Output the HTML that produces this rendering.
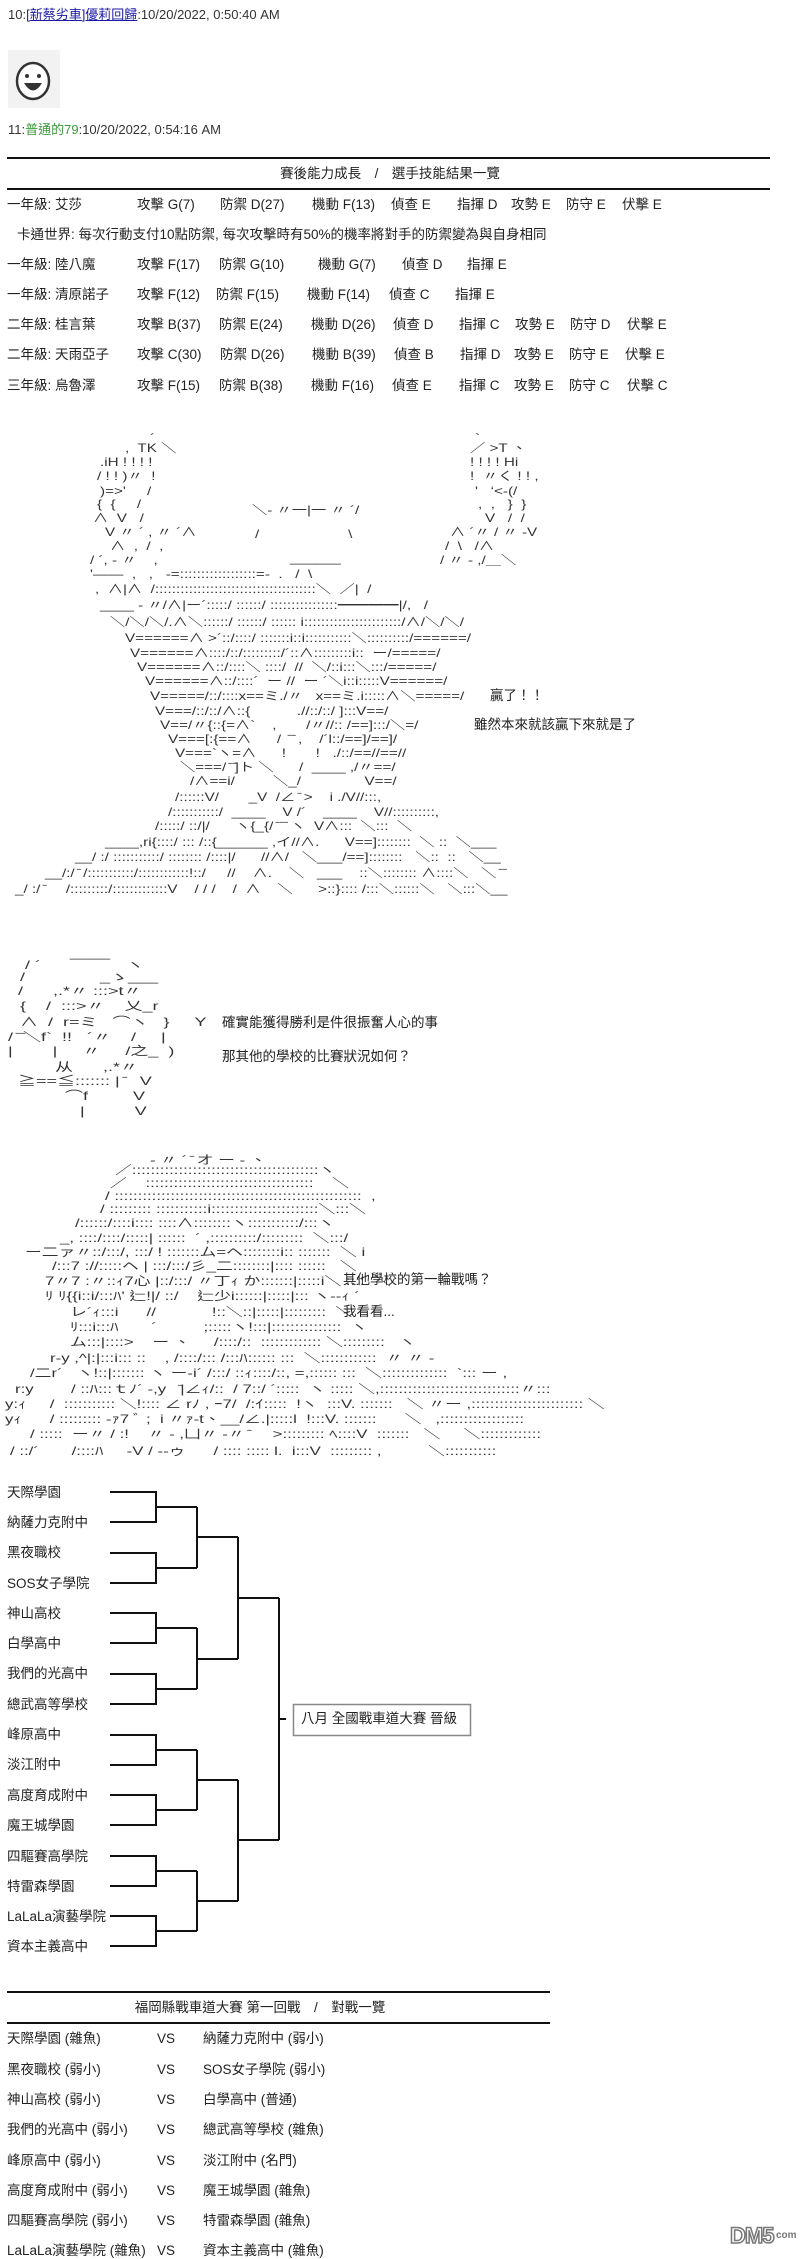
<!DOCTYPE html>
<html><head><meta charset="utf-8">
<style>
html,body{margin:0;padding:0;background:#fff;}
body{width:800px;height:2256px;position:relative;overflow:hidden;font-family:"Liberation Sans","Noto Sans CJK TC",sans-serif;color:#222;}
.t{position:absolute;font-size:13.5px;line-height:16px;white-space:nowrap;}
.a{position:absolute;font-size:12px;line-height:14px;white-space:pre;color:#333;transform-origin:0 0;}
.a1{transform:scaleX(1.27);}
.a2{transform:scaleX(1.5);}
.a3{transform:scaleX(1.4);}
.hr{position:absolute;height:2px;background:#111;}
</style></head><body>

<div class="t" style="left:8px;top:7px;font-size:13px;color:#333">10:<span style="color:#1a1aa8;text-decoration:underline">[新蔡劣車]優莉回歸</span>:10/20/2022, 0:50:40 AM</div>
<svg style="position:absolute;left:8px;top:50px" width="52" height="60">
<rect x="0" y="0" width="52" height="58" fill="#f2f2f2"/>
<ellipse cx="25" cy="31" rx="16" ry="18" fill="#fff" stroke="#333" stroke-width="2.5"/>
<circle cx="19" cy="26" r="2" fill="#333"/><circle cx="31" cy="26" r="2" fill="#333"/>
<path d="M16 33 Q25 48 34 33 Z" fill="#333"/>
</svg>
<div class="t" style="left:8px;top:122px;font-size:13px;color:#333">11:<span style="color:#3a9a3a">普通的79</span>:10/20/2022, 0:54:16 AM</div>

<div class="hr" style="left:7px;top:157px;width:763px"></div>
<div class="t" style="left:0;width:780px;text-align:center;top:166px">賽後能力成長　/　選手技能結果一覽</div>
<div class="hr" style="left:7px;top:188px;width:763px"></div>

<div class="t" style="left:7px;top:197px">一年級: 艾莎</div><div class="t" style="left:137px;top:197px">攻擊 G(7)</div><div class="t" style="left:220px;top:197px">防禦 D(27)</div><div class="t" style="left:312px;top:197px">機動 F(13)</div><div class="t" style="left:391px;top:197px">偵查 E</div><div class="t" style="left:457px;top:197px">指揮 D</div><div class="t" style="left:511px;top:197px">攻勢 E</div><div class="t" style="left:566px;top:197px">防守 E</div><div class="t" style="left:622px;top:197px">伏擊 E</div>
<div class="t" style="left:17px;top:227px">卡通世界: 每次行動支付10點防禦, 每次攻擊時有50%的機率將對手的防禦變為與自身相同</div>
<div class="t" style="left:7px;top:257px">一年級: 陸八魔</div><div class="t" style="left:137px;top:257px">攻擊 F(17)</div><div class="t" style="left:219px;top:257px">防禦 G(10)</div><div class="t" style="left:318px;top:257px">機動 G(7)</div><div class="t" style="left:402px;top:257px">偵查 D</div><div class="t" style="left:467px;top:257px">指揮 E</div>
<div class="t" style="left:7px;top:287px">一年級: 清原諾子</div><div class="t" style="left:137px;top:287px">攻擊 F(12)</div><div class="t" style="left:216px;top:287px">防禦 F(15)</div><div class="t" style="left:307px;top:287px">機動 F(14)</div><div class="t" style="left:389px;top:287px">偵查 C</div><div class="t" style="left:455px;top:287px">指揮 E</div>
<div class="t" style="left:7px;top:317px">二年級: 桂言葉</div><div class="t" style="left:137px;top:317px">攻擊 B(37)</div><div class="t" style="left:219px;top:317px">防禦 E(24)</div><div class="t" style="left:311px;top:317px">機動 D(26)</div><div class="t" style="left:393px;top:317px">偵查 D</div><div class="t" style="left:459px;top:317px">指揮 C</div><div class="t" style="left:515px;top:317px">攻勢 E</div><div class="t" style="left:570px;top:317px">防守 D</div><div class="t" style="left:627px;top:317px">伏擊 E</div>
<div class="t" style="left:7px;top:347px">二年級: 天雨亞子</div><div class="t" style="left:137px;top:347px">攻擊 C(30)</div><div class="t" style="left:220px;top:347px">防禦 D(26)</div><div class="t" style="left:312px;top:347px">機動 B(39)</div><div class="t" style="left:394px;top:347px">偵查 B</div><div class="t" style="left:460px;top:347px">指揮 D</div><div class="t" style="left:514px;top:347px">攻勢 E</div><div class="t" style="left:569px;top:347px">防守 E</div><div class="t" style="left:625px;top:347px">伏擊 E</div>
<div class="t" style="left:7px;top:378px">三年級: 烏魯澤</div><div class="t" style="left:137px;top:378px">攻擊 F(15)</div><div class="t" style="left:219px;top:378px">防禦 B(38)</div><div class="t" style="left:311px;top:378px">機動 F(16)</div><div class="t" style="left:392px;top:378px">偵查 E</div><div class="t" style="left:459px;top:378px">指揮 C</div><div class="t" style="left:514px;top:378px">攻勢 E</div><div class="t" style="left:569px;top:378px">防守 C</div><div class="t" style="left:627px;top:378px">伏擊 C</div>

<!-- AA1 -->
<div class="a a1" style="left:150px;top:431px">´</div><div class="a a1" style="left:475px;top:431px">`</div>
<div class="a a1" style="left:125px;top:441px">,  TK ＼</div><div class="a a1" style="left:470px;top:441px">／ &gt;T 、</div>
<div class="a a1" style="left:100px;top:455px">.iH ! ! ! !</div><div class="a a1" style="left:470px;top:455px">! ! ! ! Hi</div>
<div class="a a1" style="left:97px;top:469px">/ ! ! )〃  !</div><div class="a a1" style="left:470px;top:469px">!  〃く ! ! ,</div>
<div class="a a1" style="left:100px;top:484px">)=&gt;'     /</div><div class="a a1" style="left:475px;top:484px">'   ‘&lt;-(/</div>
<div class="a a1" style="left:97px;top:497px">{  {     /</div><div class="a a1" style="left:478px;top:497px">,  ,   }  }</div>
<div class="a a1" style="left:252px;top:503px">＼- 〃一|一 〃 ´/</div>
<div class="a a1" style="left:93px;top:511px">∧  V   /</div><div class="a a1" style="left:485px;top:511px">V   /  /</div>
<div class="a a1" style="left:105px;top:525px">V 〃 ´ , 〃 ´∧</div><div class="a a1" style="left:255px;top:527px">/                     \</div><div class="a a1" style="left:450px;top:525px">∧ ´〃 / 〃 -V</div>
<div class="a a1" style="left:110px;top:539px">∧  ,  /  ,</div><div class="a a1" style="left:445px;top:539px">/  \   /∧</div>
<div class="a a1" style="left:90px;top:553px">/ ´, - 〃    ,</div><div class="a a1" style="left:290px;top:551px">______</div><div class="a a1" style="left:440px;top:553px">/ 〃 - ,/＿＼</div>
<div class="a a1" style="left:90px;top:567px">'——  ,   ,   -=::::::::::::::::::=-  .   /  \</div>
<div class="a a1" style="left:95px;top:582px">,  ∧|∧  /::::::::::::::::::::::::::::::::::::::＼  ／|  /</div>
<div class="a a1" style="left:100px;top:598px">____ - 〃/∧|ー´:::::/ ::::::/ ::::::::::::::::━━━━|/,   /</div>
<div class="a a1" style="left:110px;top:615px">＼/＼/＼/.∧＼::::::/ ::::::/ :::::: i:::::::::::::::::::::::/∧/＼/＼/</div>
<div class="a a1" style="left:125px;top:631px">V======∧ &gt;´::/::::/ :::::::i::i:::::::::::＼::::::::::/======/</div>
<div class="a a1" style="left:130px;top:646px">V======∧::::/::/:::::::::/´::∧:::::::::i::  ー/=====/</div>
<div class="a a1" style="left:137px;top:660px">V======∧::/::::＼ ::::/  //  ＼/::i:::＼:::/=====/</div>
<div class="a a1" style="left:145px;top:674px">V======∧::/::::´  ー //  ー ´＼i::i:::::V======/</div>
<div class="a a1" style="left:150px;top:689px">V=====/::/::::x==ミ./〃   x==ミ.i:::::∧＼=====/</div>
<div class="a a1" style="left:155px;top:704px">V===/::/::/∧::{           .//::/::/ ]:::V==/</div>
<div class="a a1" style="left:160px;top:718px">V==/〃{::{=∧`    ,       /〃//:: /==]:::/＼=/</div>
<div class="a a1" style="left:168px;top:732px">V===[:{==∧      /  ̄ ̄ ,    /´l::/==]/==]/</div>
<div class="a a1" style="left:175px;top:746px">V===`ヽ=∧      !       !   ./::/==//==//</div>
<div class="a a1" style="left:180px;top:760px">＼===/ ̄ ̄]ト ＼      /  ____ ,/〃==/</div>
<div class="a a1" style="left:190px;top:774px">/∧==i/         ＼_/               V==/</div>
<div class="a a1" style="left:175px;top:790px">/::::::V/       _V  /∠ ̄ &gt;    i ./V//:::,</div>
<div class="a a1" style="left:168px;top:805px">/:::::::::::/  ____    V /´    ____    V//::::::::::,</div>
<div class="a a1" style="left:155px;top:819px">/:::::/ ::/|/      ヽ{_{/ ̄ ̄ ̄ ヽ  V∧:::  ＼:::  ＼</div>
<div class="a a1" style="left:105px;top:835px">____,ri{::::/ ::: /::{______ ,イ//∧.      V==]::::::::  ＼ ::  ＼___</div>
<div class="a a1" style="left:75px;top:850px">__/ :/ :::::::::::/ :::::::: /::::|/      //∧/   ＼___/==]::::::::   ＼::  ::   ＼__</div>
<div class="a a1" style="left:45px;top:866px">__/:/ ̄ /:::::::::::/::::::::::::!::/     //    ∧.    ＼   ___    ::＼:::::::: ∧::::＼   ＼ ̄ ̄</div>
<div class="a a1" style="left:15px;top:882px">_/ :/ ̄     /:::::::::/:::::::::::::V    / / /    /  ∧    ＼      &gt;::}:::: /:::＼::::::＼   ＼:::＼__</div>
<div class="t" style="left:490px;top:688px">贏了！！</div>
<div class="t" style="left:474px;top:717px">雖然本來就該贏下來就是了</div>

<!-- AA2 -->
<div class="a a2" style="left:60px;top:946px">  ____</div>
<div class="a a2" style="left:25px;top:958px">/ ´                 ヽ</div>
<div class="a a2" style="left:20px;top:970px">/               _ゝ___</div>
<div class="a a2" style="left:18px;top:984px">/      ,.*〃 :::&gt;t〃</div>
<div class="a a2" style="left:20px;top:999px">{    /  :::&gt;〃    乂_r</div>
<div class="a a2" style="left:20px;top:1015px">∧  /  r=ミ   ⌒ヽ   }     Y</div>
<div class="a a2" style="left:8px;top:1030px">/ ̄ ̄＼f`  !!   ´〃    /     |</div>
<div class="a a2" style="left:8px;top:1044px">|        |     〃     /之_  )</div>
<div class="a a2" style="left:55px;top:1060px">从      ,.*〃</div>
<div class="a a2" style="left:18px;top:1074px">≧==≦::::::: | ̄   V</div>
<div class="a a2" style="left:65px;top:1089px">⌒f         V</div>
<div class="a a2" style="left:80px;top:1104px">|          V</div>
<div class="t" style="left:222px;top:1015px">確實能獲得勝利是件很振奮人心的事</div>
<div class="t" style="left:222px;top:1049px">那其他的學校的比賽狀況如何？</div>

<!-- AA3 -->
<div class="a a3" style="left:150px;top:1153px">- 〃 ´ ̄ オ ー - 、</div>
<div class="a a3" style="left:115px;top:1163px">／::::::::::::::::::::::::::::::::::::::::ヽ</div>
<div class="a a3" style="left:110px;top:1176px">／    ::::::::::::::::::::::::::::::::::::    ＼</div>
<div class="a a3" style="left:105px;top:1189px">/ :::::::::::::::::::::::::::::::::::::::::::::::::::::  ,</div>
<div class="a a3" style="left:100px;top:1202px">/ ::::::::: :::::::::::i:::::::::::::::::::::::＼:::＼</div>
<div class="a a3" style="left:75px;top:1216px">/::::::/::::i:::: ::::∧::::::::ヽ:::::::::::/:::ヽ</div>
<div class="a a3" style="left:60px;top:1231px">_, ::::/::::/:::::| ::::::  ´ ,::::::::::/:::::::::  ＼:::/</div>
<div class="a a3" style="left:25px;top:1245px">ー二ァ〃::/:::/, :::/ ! :::::::ム=ヘ::::::::i:: :::::::  ＼ i</div>
<div class="a a3" style="left:52px;top:1259px">/:::7 ://:::::ヘ | :::/:::/彡_二::::::::|:::: ::::::   ＼</div>
<div class="a a3" style="left:45px;top:1274px">7〃7 :〃::ｨ7心 |::/:::/ 〃丁ｨ か:::::::|:::::i＼ ::::  ＼</div>
<div class="a a3" style="left:45px;top:1289px">ﾘ ﾘ{{i::i/:::ﾊ' 辷!|/ ::/    辷少i::::::|:::::|::: ヽ--ｨ ´</div>
<div class="a a3" style="left:70px;top:1305px">レ´ｨ:::i      //            !::＼::|:::::|:::::::::  ＼</div>
<div class="a a3" style="left:70px;top:1320px">ﾘ:::i:::ﾊ       ´          ;:::::ヽ!:::|:::::::::::::::  ヽ</div>
<div class="a a3" style="left:70px;top:1335px">ム:::|::::&gt;    ー 、     /::::/::  ::::::::::::: ＼:::::::::   ヽ</div>
<div class="a a3" style="left:50px;top:1351px">r-y ,^|:|:::i::: ::    , /::::/::: /:::ﾊ:::::: :::  ＼::::::::::::  〃 〃 -</div>
<div class="a a3" style="left:30px;top:1366px">/二r´   ヽ!::|::::::: ヽ ー-i´ /:::/ ::ｨ::::/::, =,:::::: :::  ＼::::::::::::::  `::: ー ,</div>
<div class="a a3" style="left:15px;top:1382px">r:y        / ::ﾊ:::ｔﾉ´ -,y   ̄|∠ｨ/::  / 7::/ ´:::::  ヽ ::::: ＼,::::::::::::::::::::::::::::::〃:::</div>
<div class="a a3" style="left:5px;top:1397px">y:ｨ     /  ::::::::::: ＼!:::: ∠ rﾉ , ｰ7/  /:ｲ:::::  !ヽ  :::V. :::::::   ＼ 〃ー ,:::::::::::::::::::::::: ＼</div>
<div class="a a3" style="left:5px;top:1412px">yｨ      / ::::::::: -ｧ7 ﾞ ;  i 〃ｧ-t、__/∠.|:::::l  !:::V. :::::::      ＼   ,::::::::::::::::::</div>
<div class="a a3" style="left:30px;top:1427px">/ :::::  ー〃 / :!    〃 - ,凵〃 -〃 ̄     &gt;::::::::: ﾍ::::V  :::::::   ＼     ＼:::::::::::::</div>
<div class="a a3" style="left:10px;top:1444px">/ ::/´       /::::ﾊ     -V / --ゥ      / :::: ::::: l.  i:::V  ::::::::: ,          ＼:::::::::::</div>
<div class="t" style="left:343px;top:1272px">其他學校的第一輪戰嗎？</div>
<div class="t" style="left:343px;top:1304px">我看看...</div>

<!-- Bracket names -->
<div class="t" style="left:7px;top:1485px">天際學園</div>
<div class="t" style="left:7px;top:1515px">納薩力克附中</div>
<div class="t" style="left:7px;top:1545px">黑夜職校</div>
<div class="t" style="left:7px;top:1576px">SOS女子學院</div>
<div class="t" style="left:7px;top:1606px">神山高校</div>
<div class="t" style="left:7px;top:1636px">白學高中</div>
<div class="t" style="left:7px;top:1666px">我們的光高中</div>
<div class="t" style="left:7px;top:1697px">總武高等學校</div>
<div class="t" style="left:7px;top:1727px">峰原高中</div>
<div class="t" style="left:7px;top:1757px">淡江附中</div>
<div class="t" style="left:7px;top:1788px">高度育成附中</div>
<div class="t" style="left:7px;top:1818px">魔王城學園</div>
<div class="t" style="left:7px;top:1849px">四驅賽高學院</div>
<div class="t" style="left:7px;top:1879px">特雷森學園</div>
<div class="t" style="left:7px;top:1909px">LaLaLa演藝學院</div>
<div class="t" style="left:7px;top:1939px">資本主義高中</div>

<svg style="position:absolute;left:0;top:0" width="800" height="2000">
<g stroke="#111" stroke-width="2" fill="none">
<path d="M110 1492H156V1522H110 M156 1507H197"/>
<path d="M110 1553H156V1583H110 M156 1568H197"/>
<path d="M110 1613H156V1643H110 M156 1628H197"/>
<path d="M110 1674H156V1704H110 M156 1689H197"/>
<path d="M110 1735H156V1765H110 M156 1750H197"/>
<path d="M110 1795H156V1825H110 M156 1810H197"/>
<path d="M110 1856H156V1886H110 M156 1871H197"/>
<path d="M110 1916H156V1946H110 M156 1931H197"/>
<path d="M197 1507V1568 M197 1537H238"/>
<path d="M197 1628V1689 M197 1659H238"/>
<path d="M197 1750V1810 M197 1780H238"/>
<path d="M197 1871V1931 M197 1901H238"/>
<path d="M238 1537V1659 M238 1598H279"/>
<path d="M238 1780V1901 M238 1840H279"/>
<path d="M279 1598V1840 M279 1719H286"/>
</g>
<rect x="293.5" y="1704.5" width="177" height="31" fill="#fff" stroke="#888" stroke-width="1.5"/>
</svg>
<div class="t" style="left:301px;top:1711px">八月 全國戰車道大賽 晉級</div>

<div class="hr" style="left:7px;top:1991px;width:543px"></div>
<div class="t" style="left:0;width:520px;text-align:center;top:2000px">福岡縣戰車道大賽 第一回戰　/　對戰一覽</div>
<div class="hr" style="left:7px;top:2022px;width:543px"></div>

<div class="t" style="left:7px;top:2031px">天際學園 (雜魚)</div><div class="t" style="left:157px;top:2031px">VS</div><div class="t" style="left:203px;top:2031px">納薩力克附中 (弱小)</div>
<div class="t" style="left:7px;top:2062px">黑夜職校 (弱小)</div><div class="t" style="left:157px;top:2062px">VS</div><div class="t" style="left:203px;top:2062px">SOS女子學院 (弱小)</div>
<div class="t" style="left:7px;top:2092px">神山高校 (弱小)</div><div class="t" style="left:157px;top:2092px">VS</div><div class="t" style="left:203px;top:2092px">白學高中 (普通)</div>
<div class="t" style="left:7px;top:2122px">我們的光高中 (弱小)</div><div class="t" style="left:157px;top:2122px">VS</div><div class="t" style="left:203px;top:2122px">總武高等學校 (雜魚)</div>
<div class="t" style="left:7px;top:2153px">峰原高中 (弱小)</div><div class="t" style="left:157px;top:2153px">VS</div><div class="t" style="left:203px;top:2153px">淡江附中 (名門)</div>
<div class="t" style="left:7px;top:2183px">高度育成附中 (弱小)</div><div class="t" style="left:157px;top:2183px">VS</div><div class="t" style="left:203px;top:2183px">魔王城學園 (雜魚)</div>
<div class="t" style="left:7px;top:2213px">四驅賽高學院 (弱小)</div><div class="t" style="left:157px;top:2213px">VS</div><div class="t" style="left:203px;top:2213px">特雷森學園 (雜魚)</div>
<div class="t" style="left:7px;top:2243px">LaLaLa演藝學院 (雜魚)</div><div class="t" style="left:157px;top:2243px">VS</div><div class="t" style="left:203px;top:2243px">資本主義高中 (雜魚)</div>

<div style="position:absolute;left:730px;top:2219px;width:66px;height:26px;">
<div style="position:absolute;left:0;top:4px;font:bold 22px 'Liberation Sans',sans-serif;color:#fff;-webkit-text-stroke:1.5px #777;letter-spacing:-1px">DM5</div>
<div style="position:absolute;left:46px;top:11px;font:bold 10px 'Liberation Sans',sans-serif;color:#777">com</div>
</div>
</body></html>
